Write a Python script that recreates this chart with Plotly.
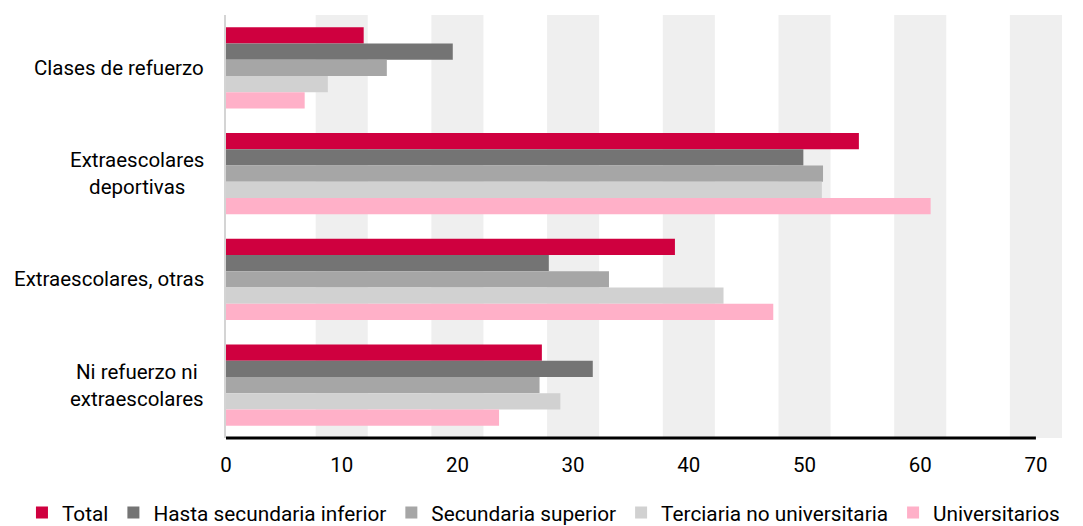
import plotly.graph_objects as go

categories = ["Clases de refuerzo", "Extraescolares<br>deportivas", "Extraescolares, otras", "Ni refuerzo ni<br>extraescolares"]
series_names = ["Total", "Hasta secundaria inferior", "Secundaria superior", "Terciaria no universitaria", "Universitarios"]
total = [11.9, 54.7, 38.8, 27.3]
hasta_sec_inf = [19.6, 49.9, 27.9, 31.7]
sec_sup = [13.9, 51.6, 33.1, 27.1]
terciaria = [8.8, 51.5, 43.0, 28.9]
universitarios = [6.8, 60.9, 47.3, 23.6]
tick_vals = [0, 10, 20, 30, 40, 50, 60, 70]
colors = ["#cf003f", "#747474", "#a6a6a6", "#d1d1d1", "#ffb0c8"]

values = [total, hasta_sec_inf, sec_sup, terciaria, universitarios]

fig = go.Figure()
for name, vals, col in zip(series_names, values, colors):
    fig.add_trace(go.Bar(y=categories, x=vals, name=name, orientation="h",
                         marker=dict(color=col, line=dict(width=0))))

shapes = []
for t in tick_vals[1:]:
    shapes.append(dict(type="rect", xref="x", yref="paper", x0=t - 2.25, x1=t + 2.25,
                       y0=0, y1=1, fillcolor="#efefef", line=dict(width=0), layer="below"))
shapes.append(dict(type="line", xref="x", yref="paper", x0=0, x1=tick_vals[-1], y0=0, y1=0,
                   line=dict(color="black", width=3), layer="above"))

annotations = [dict(text=c, x=0, xref="paper", y=c, yref="y", xanchor="right", yanchor="middle",
                    xshift=-20, align="center", showarrow=False, font=dict(size=20.5))
               for c in categories]

fig.update_layout(
    width=1083, height=526,
    margin=dict(l=226, r=17, t=15, b=88, autoexpand=False),
    barmode="group", bargap=0.23, bargroupgap=0,
    plot_bgcolor="white", paper_bgcolor="white",
    font=dict(family="Roboto", size=20.5, color="black"),
    shapes=shapes,
    annotations=annotations,
    showlegend=True,
    legend=dict(orientation="h", xref="paper", yref="paper", x=-0.2429, y=-0.1773,
                xanchor="left", yanchor="middle", font=dict(size=20.8),
                itemwidth=30, traceorder="normal"),
    xaxis=dict(range=[0, 72.6], tickvals=tick_vals, showgrid=False, zeroline=False,
               showline=False, ticks="", ticklabelstandoff=12),
    yaxis=dict(autorange="reversed", showgrid=False, zeroline=False, showline=True,
               linecolor="#d4d4d4", linewidth=2, ticks="", showticklabels=False),
)

fig.write_html("out.html", config={"displayModeBar": False},
               post_script="document.body.style.margin='0';")
